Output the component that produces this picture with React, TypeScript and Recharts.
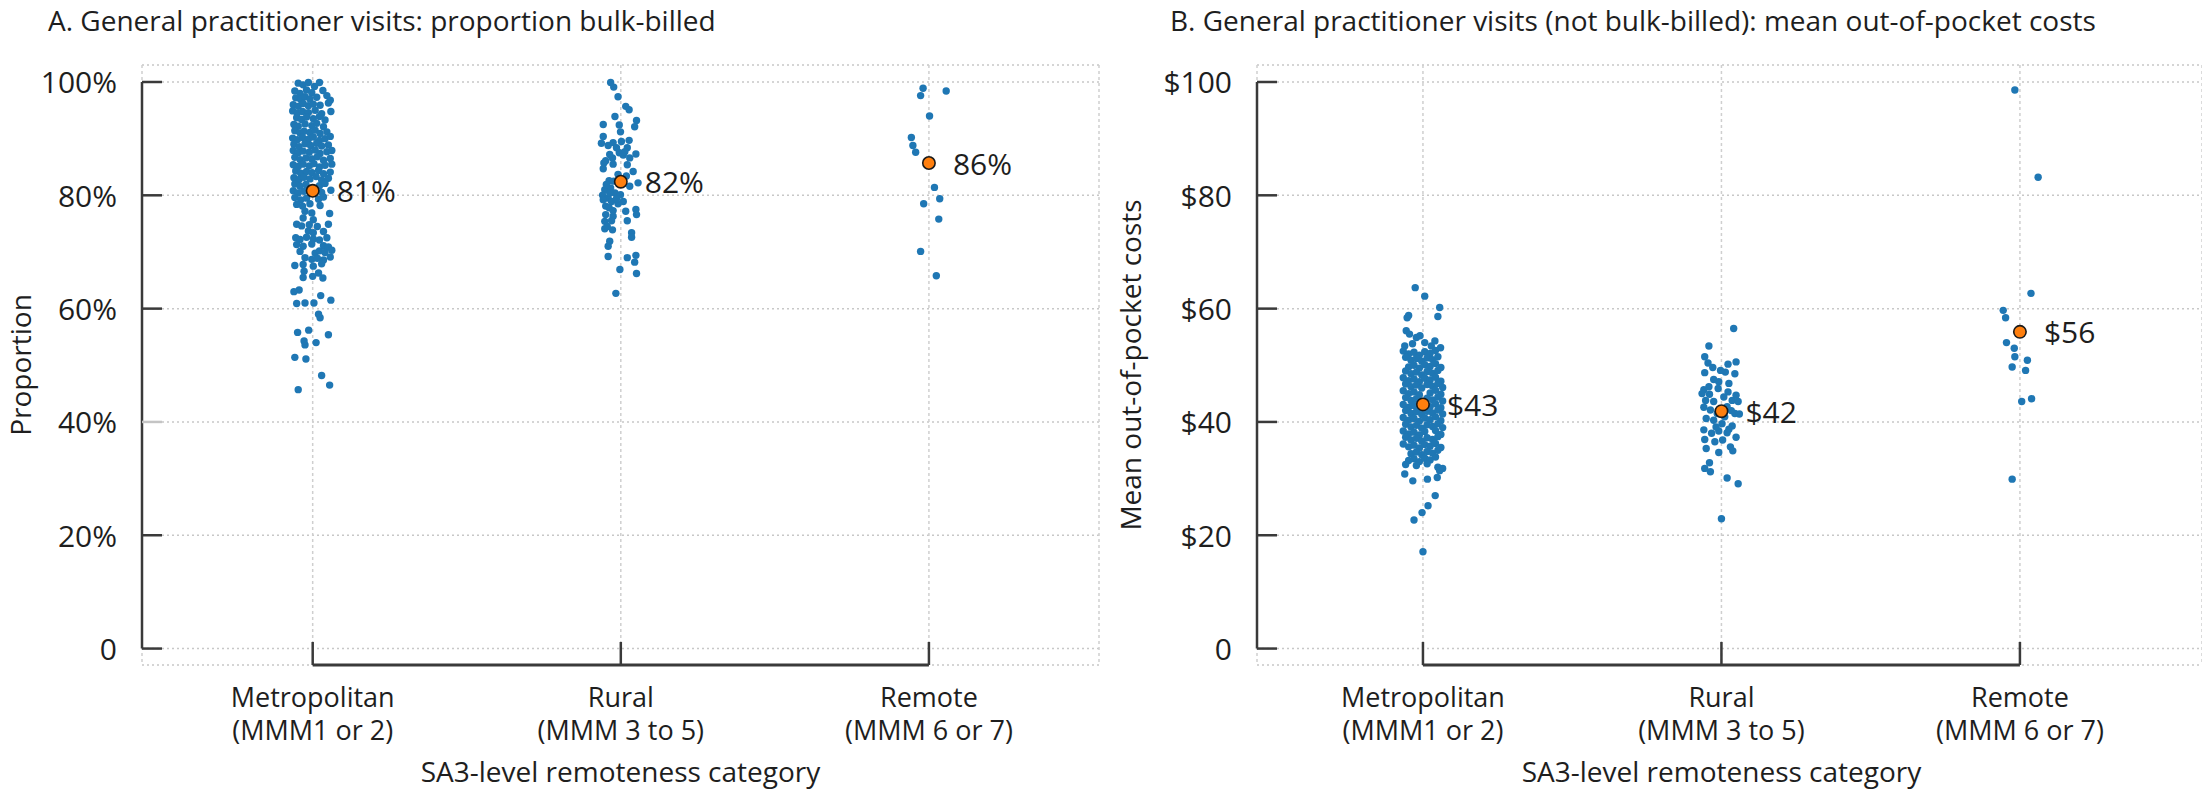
import {
  ScatterChart,
  Scatter,
  XAxis,
  YAxis,
  CartesianGrid,
  ReferenceLine,
  Label
} from "recharts";

const categories = ["Metropolitan", "Rural", "Remote"];
const categoryCodes = ["(MMM1 or 2)", "(MMM 3 to 5)", "(MMM 6 or 7)"];
const xAxisTitle = "SA3-level remoteness category";

const titleA = "A. General practitioner visits: proportion bulk-billed";
const titleB = "B. General practitioner visits (not bulk-billed): mean out-of-pocket costs";

const proportionTicks = [0, 20, 40, 60, 80, 100];
const costTicks = [0, 20, 40, 60, 80, 100];

// group means (orange markers)
const proportionMeans = [80.8, 82.4, 85.7];
const costMeans = [43.1, 41.9, 55.9];

// each SA3 region: [horizontal jitter within category, value]
const proportionMetro = [
  [-0.047, 99.8], [-0.031, 99.5], [-0.014, 99.9], [0.022, 99.9], [0.006, 99.2],
  [-0.058, 98.4], [-0.041, 98.0], [-0.020, 98.6], [-0.003, 98.1], [0.033, 98.5],
  [-0.055, 97.2], [-0.039, 96.9], [-0.025, 97.4], [-0.009, 97.0], [0.013, 97.3], [0.046, 97.6], [0.057, 96.8],
  [-0.063, 96.0], [-0.047, 95.7], [-0.031, 96.2], [-0.014, 95.8], [0.002, 96.1], [0.024, 95.9], [0.051, 96.3],
  [-0.065, 94.9], [-0.050, 94.5], [-0.033, 94.8], [-0.014, 94.6], [0.008, 95.0], [0.029, 94.4], [0.059, 94.8],
  [-0.052, 93.7], [-0.036, 93.4], [-0.020, 93.8], [0.002, 93.5], [0.022, 93.9], [0.040, 93.3],
  [-0.061, 92.5], [-0.047, 92.2], [-0.025, 92.6], [-0.003, 92.3], [0.013, 92.7], [0.035, 92.1],
  [-0.058, 91.4], [-0.041, 91.0], [-0.028, 91.3], [-0.009, 91.1], [0.008, 91.5], [0.024, 90.9], [0.046, 91.2],
  [-0.065, 90.1], [-0.050, 89.8], [-0.033, 90.2], [-0.014, 89.9], [0.002, 90.3], [0.022, 89.7], [0.040, 90.0], [0.057, 90.4],
  [-0.061, 89.0], [-0.044, 88.6], [-0.025, 89.1], [-0.007, 88.8], [0.013, 89.2], [0.029, 88.7], [0.051, 88.9],
  [-0.063, 87.9], [-0.047, 87.5], [-0.031, 87.8], [-0.011, 87.6], [0.008, 88.0], [0.024, 87.4], [0.046, 87.7], [0.062, 87.9],
  [-0.058, 86.7], [-0.041, 86.3], [-0.022, 86.6], [-0.003, 86.4], [0.015, 86.8], [0.035, 86.2], [0.057, 86.5],
  [-0.063, 85.4], [-0.047, 85.1], [-0.031, 85.5], [-0.011, 85.2], [0.004, 85.6], [0.022, 85.0], [0.040, 85.3], [0.062, 85.5],
  [-0.055, 84.3], [-0.039, 83.9], [-0.020, 84.2], [-0.002, 84.0], [0.019, 84.4], [0.035, 83.8], [0.057, 84.1],
  [-0.061, 83.1], [-0.044, 82.8], [-0.028, 83.2], [-0.009, 82.9], [0.011, 83.3], [0.029, 82.7], [0.051, 83.0],
  [-0.058, 82.0], [-0.041, 81.6], [-0.022, 81.9], [0.022, 81.7], [0.040, 82.1],
  [-0.063, 80.8], [-0.047, 80.4], [-0.028, 80.7], [0.029, 80.5], [0.059, 80.9],
  [-0.058, 79.6], [-0.039, 79.2], [-0.020, 79.5], [0.019, 79.3], [0.035, 79.7],
  [-0.052, 78.4], [-0.033, 78.1], [-0.009, 78.5], [0.024, 78.2],
  [-0.025, 77.2], [-0.003, 76.9], [0.055, 76.8],
  [-0.031, 76.0], [0.002, 75.7],
  [-0.052, 74.9], [-0.036, 74.6], [-0.011, 74.8], [0.015, 74.5], [0.051, 74.9],
  [-0.014, 73.7], [0.002, 73.4], [0.035, 73.6],
  [-0.055, 72.5], [-0.041, 72.2], [-0.020, 72.6], [0.002, 72.3], [0.022, 72.1], [0.046, 72.5],
  [-0.052, 71.3], [-0.031, 71.0], [-0.003, 71.4], [0.035, 71.1], [0.051, 70.9],
  [-0.041, 70.1], [0.008, 69.8], [0.022, 70.2], [0.040, 69.9], [0.062, 70.3],
  [-0.025, 69.0], [-0.003, 68.7], [0.015, 68.9], [0.035, 68.6], [0.057, 69.1],
  [-0.058, 67.6], [-0.031, 67.8], [0.002, 67.5], [0.029, 67.9],
  [-0.028, 66.6], [0.019, 66.3],
  [-0.031, 65.5], [0.000, 65.7], [0.033, 65.4],
  [-0.044, 63.3], [-0.061, 63.0], [0.026, 62.3],
  [0.059, 61.5], [-0.052, 60.9], [-0.025, 61.0], [0.004, 61.0],
  [0.024, 58.4], [0.019, 59.0],
  [-0.049, 55.8], [-0.013, 56.2], [0.051, 55.4],
  [-0.025, 53.6], [-0.028, 54.3], [0.011, 54.0],
  [-0.058, 51.4], [-0.022, 51.1],
  [0.029, 48.2], [0.055, 46.5], [-0.047, 45.7]
];

const proportionRural = [
  [-0.033, 99.9], [-0.023, 99.1], [-0.009, 97.4], [0.016, 95.7], [0.027, 95.1],
  [-0.019, 93.9], [0.051, 93.2], [0.045, 92.1], [-0.057, 92.5], [-0.005, 92.4],
  [-0.001, 91.2], [-0.057, 90.4], [-0.063, 89.2], [-0.041, 88.8], [-0.025, 89.3],
  [0.002, 89.5], [0.027, 89.7], [0.021, 88.4], [0.049, 87.3], [-0.005, 87.5],
  [-0.027, 86.6], [0.008, 87.1], [0.029, 86.6], [-0.055, 85.7], [-0.025, 85.5],
  [0.021, 85.4], [-0.057, 84.7], [0.040, 84.2], [-0.038, 82.6], [0.018, 83.4],
  [0.056, 82.2], [0.029, 81.6], [-0.052, 81.0], [-0.033, 81.3], [-0.059, 80.0],
  [-0.041, 79.5], [-0.019, 80.4], [0.008, 78.9], [-0.009, 78.5], [-0.049, 78.1],
  [-0.030, 78.9], [0.016, 77.2], [0.049, 77.5], [0.051, 76.6], [-0.052, 75.4],
  [-0.025, 76.3], [0.021, 75.5], [-0.052, 74.1], [-0.027, 73.9], [0.035, 73.4],
  [0.035, 72.6], [-0.036, 71.9], [-0.041, 71.0], [-0.041, 69.2], [0.021, 69.0],
  [0.049, 69.4], [0.045, 68.2], [-0.003, 66.9], [0.051, 66.2], [-0.016, 62.7],
  [-0.047, 81.9], [-0.023, 82.5], [-0.009, 83.7], [-0.057, 79.2], [-0.036, 80.4],
  [-0.001, 80.1], [-0.014, 79.4], [-0.038, 77.8], [-0.025, 77.3], [-0.049, 76.6],
  [-0.030, 75.5], [-0.044, 74.5], [-0.014, 88.4], [0.013, 87.7], [-0.036, 87.2],
  [-0.049, 86.1]
];

const proportionRemote = [
  [-0.019, 98.9], [-0.027, 97.6], [0.056, 98.4], [0.002, 94.0], [-0.057, 90.2],
  [-0.052, 88.8], [-0.043, 87.6], [0.018, 81.4], [0.035, 79.4], [-0.017, 78.5],
  [0.032, 75.8], [-0.027, 70.1], [0.024, 65.8]
];

const costMetro = [
  [-0.026, 63.7], [0.006, 62.2], [0.056, 60.2], [0.050, 58.6], [-0.048, 58.8], [-0.053, 58.4],
  [-0.056, 56.1], [-0.045, 55.5], [-0.022, 54.9], [0.006, 54.0], [0.028, 53.4], [0.059, 53.1],
  [-0.061, 53.4], [-0.035, 53.8], [0.040, 54.3], [-0.010, 55.2],
  [-0.066, 52.5], [-0.048, 52.0], [-0.030, 52.3], [-0.012, 51.8], [0.006, 52.4], [0.024, 52.1], [0.042, 52.6],
  [-0.058, 51.4], [-0.040, 50.9], [-0.022, 51.2], [-0.004, 50.7], [0.014, 51.3], [0.032, 51.0], [0.050, 51.5],
  [-0.048, 49.7], [-0.030, 50.0], [-0.012, 49.5], [0.006, 50.1], [0.024, 49.8], [0.042, 50.3], [0.060, 49.6],
  [-0.058, 49.0], [-0.040, 48.5], [-0.022, 48.8], [-0.004, 48.3], [0.014, 48.9], [0.032, 48.6], [0.050, 49.1],
  [-0.066, 47.8], [-0.048, 47.3], [-0.030, 47.6], [-0.012, 47.1], [0.006, 47.7], [0.024, 47.4], [0.042, 47.9], [0.060, 47.2],
  [-0.058, 46.7], [-0.040, 46.2], [-0.022, 46.5], [-0.004, 46.0], [0.014, 46.6], [0.032, 46.3], [0.050, 46.8], [0.066, 46.1],
  [-0.066, 45.5], [-0.048, 45.0], [-0.030, 45.3], [-0.012, 44.8], [0.024, 45.1], [0.042, 45.6], [0.060, 44.9],
  [-0.058, 44.3], [-0.040, 43.8], [-0.022, 44.1], [-0.004, 43.6], [0.014, 44.2], [0.032, 43.9], [0.050, 44.4], [0.066, 43.7],
  [-0.066, 43.1], [-0.048, 42.6], [-0.030, 42.9], [-0.012, 42.4], [0.006, 43.0], [0.024, 42.7], [0.042, 43.2], [0.060, 42.5],
  [-0.058, 42.0], [-0.040, 41.5], [-0.022, 41.8], [-0.004, 41.3], [0.014, 41.9], [0.032, 41.6], [0.050, 42.1], [0.066, 41.4],
  [-0.066, 40.8], [-0.048, 40.3], [-0.030, 40.6], [-0.012, 40.1], [0.006, 40.7], [0.024, 40.4], [0.042, 40.9], [0.060, 40.2],
  [-0.058, 39.6], [-0.040, 39.1], [-0.022, 39.4], [-0.004, 38.9], [0.014, 39.5], [0.032, 39.2], [0.050, 39.7], [0.066, 39.0],
  [-0.066, 38.4], [-0.048, 37.9], [-0.030, 38.2], [-0.012, 37.7], [0.006, 38.3], [0.042, 38.5], [0.060, 37.8],
  [-0.058, 37.3], [-0.040, 36.8], [-0.022, 37.1], [-0.004, 36.6], [0.014, 37.2], [0.032, 36.9], [0.050, 37.4],
  [-0.066, 36.1], [-0.048, 35.6], [-0.030, 35.9], [-0.012, 35.4], [0.006, 36.0], [0.024, 35.7], [0.042, 36.2], [0.060, 35.5],
  [-0.040, 34.4], [-0.022, 34.7], [-0.004, 34.2], [0.014, 34.8], [0.032, 34.5], [0.050, 35.0],
  [-0.048, 33.2], [-0.030, 33.5], [-0.012, 33.0], [0.006, 33.6], [0.024, 33.3], [0.042, 33.8],
  [-0.058, 32.5], [-0.022, 32.3], [0.014, 32.6], [0.050, 32.0], [0.066, 31.8],
  [-0.061, 30.8], [-0.034, 29.6], [0.015, 29.9], [0.048, 30.2], [0.056, 31.4],
  [0.041, 27.0], [0.017, 25.2], [-0.003, 24.0], [-0.030, 22.7], [0.000, 17.1]
];

const costRural = [
  [0.041, 56.5], [-0.042, 53.4], [-0.056, 51.5], [-0.045, 50.4], [-0.029, 49.6],
  [0.049, 50.6], [0.022, 50.2], [-0.056, 48.7], [0.045, 48.5], [0.013, 48.8],
  [-0.026, 47.5], [-0.009, 47.1], [0.025, 46.8], [-0.059, 45.7], [-0.040, 44.9],
  [-0.011, 45.9], [0.022, 45.3], [0.049, 44.7], [-0.053, 43.8], [-0.026, 43.6],
  [0.036, 43.8], [0.056, 43.6], [-0.059, 42.6], [-0.037, 42.1], [0.019, 42.7],
  [0.045, 41.5], [0.060, 41.4], [-0.051, 40.6], [-0.026, 40.3], [0.002, 39.7],
  [0.036, 39.3], [-0.059, 38.6], [-0.033, 38.0], [-0.009, 38.4], [0.019, 38.1],
  [0.049, 37.3], [-0.056, 36.9], [-0.022, 36.5], [0.004, 36.8], [0.030, 35.6],
  [-0.051, 35.3], [-0.009, 34.6], [0.038, 34.9], [-0.040, 32.8], [-0.056, 31.8],
  [-0.037, 31.2], [0.019, 30.1], [0.056, 29.1], [0.000, 22.9],
  [-0.065, 45.0], [-0.014, 41.5], [0.011, 40.9], [0.025, 38.7], [-0.018, 39.1],
  [-0.042, 46.2], [0.008, 44.4], [-0.003, 49.1], [0.033, 42.0]
];

const costRemote = [
  [-0.017, 98.6], [0.061, 83.2], [0.037, 62.7], [-0.056, 59.7], [-0.048, 58.4],
  [-0.045, 54.0], [-0.019, 53.0], [-0.017, 51.5], [0.025, 50.9], [-0.026, 49.7],
  [0.019, 49.1], [0.039, 44.1], [0.006, 43.6], [-0.026, 29.9]
];

const FONT = "'Open Sans', 'Noto Sans', sans-serif";
const INK = "#1e1e1e";
const AXIS = "#3a3a3a";
const Y_MIN = -2.9;
const Y_MAX = 103;

const toPoints = (groups: number[][][]) =>
  groups.flatMap((g, i) => g.map(([j, v]) => ({ x: i + j, y: v })));

const Dot = (p: any) => <circle cx={p.cx} cy={p.cy} r={3.7} fill="#1f77b4" />;

function Panel(props: any) {
  const { width, axisWidth, xMin, xMax, ticks, fmt, yLabel, groups, means, meanFmt, faint, titleShift } = props;
  const points = toPoints(groups);
  const meanRows = means.map((m: number, i: number) => ({ x: i, y: m, label: meanFmt(m) }));

  const MeanDot = (p: any) => (
    <g>
      <circle cx={p.cx} cy={p.cy} r={6.2} fill="#ff7f0e" stroke="#1a1a1a" strokeWidth={1.6} />
      <text x={p.cx + 24} y={p.cy} dominantBaseline="central" fontSize={30} fill={INK} fontFamily={FONT}>
        {p.payload.label}
      </text>
    </g>
  );

  const YTick = (p: any) => (
    <g>
      <line x1={p.x} x2={p.x + 20} y1={p.y} y2={p.y}
        stroke={faint.includes(p.payload.value) ? "#c4c4c4" : AXIS} strokeWidth={2.5} />
      <text x={p.x - 25} y={p.y} textAnchor="end" dominantBaseline="central" fontSize={30} fill={INK} fontFamily={FONT}>
        {fmt(p.payload.value)}
      </text>
    </g>
  );

  // bracket tick plus the two-line category label
  const XTick = (p: any) => (
    <g>
      <line x1={p.x} x2={p.x} y1={p.y - 23} y2={p.y} stroke={AXIS} strokeWidth={2.5} />
      <text x={p.x} y={p.y + 31} textAnchor="middle" dominantBaseline="central" fontSize={27} fill={INK} fontFamily={FONT}>
        <tspan x={p.x}>{categories[p.payload.value]}</tspan>
        <tspan x={p.x} dy={33}>{categoryCodes[p.payload.value]}</tspan>
      </text>
    </g>
  );

  return (
    <ScatterChart width={width} height={793} margin={{ top: 65, right: props.right, bottom: 0, left: 0 }}>
      <CartesianGrid vertical={false} stroke="#c8c8c8" strokeDasharray="2 3" strokeWidth={1.5} />
      <CartesianGrid horizontal={false} stroke="#cfcfcf" strokeDasharray="3 3" strokeWidth={1.5} />
      <XAxis type="number" dataKey="x" domain={[xMin, xMax]} ticks={[0, 1, 2]} interval={0}
        allowDataOverflow axisLine={false} tickLine={false} tickSize={0} tickMargin={0}
        height={128} tick={XTick}>
        <Label content={(lp: any) => {
          const vb = lp.viewBox;
          return (
            <text x={vb.x + vb.width / 2 + titleShift} y={vb.y + 106} textAnchor="middle"
              dominantBaseline="central" fontSize={28} fill={INK} fontFamily={FONT}>
              {xAxisTitle}
            </text>
          );
        }} />
      </XAxis>
      <YAxis type="number" dataKey="y" domain={[Y_MIN, Y_MAX]} ticks={ticks} interval={0}
        allowDataOverflow axisLine={false} tickLine={false} tickSize={0} tickMargin={0}
        width={axisWidth} tick={YTick}>
        <Label content={(lp: any) => {
          const vb = lp.viewBox;
          const cx = vb.x + props.labelX;
          const cy = vb.y + vb.height / 2;
          return (
            <text x={cx} y={cy} transform={`rotate(-90 ${cx} ${cy})`} textAnchor="middle"
              dominantBaseline="central" fontSize={28} fill={INK} fontFamily={FONT}>
              {yLabel}
            </text>
          );
        }} />
      </YAxis>
      <ReferenceLine segment={[{ x: xMin, y: 0 }, { x: xMin, y: 100 }]} stroke={AXIS} strokeWidth={2.5} ifOverflow="visible" />
      <ReferenceLine segment={[{ x: 0, y: Y_MIN }, { x: 2, y: Y_MIN }]} stroke={AXIS} strokeWidth={3} ifOverflow="visible" />
      <Scatter data={points} shape={Dot} isAnimationActive={false} />
      <Scatter data={meanRows} shape={MeanDot} isAnimationActive={false} />
    </ScatterChart>
  );
}

export default function App() {
  return (
    <div style={{ position: "absolute", left: 0, top: 0, width: 2202, height: 793, background: "#fff", overflow: "hidden" }}>
      <svg width={2202} height={44} style={{ position: "absolute", left: 0, top: 0 }}>
        <text x={48} y={31} fontSize={28} fill={INK} fontFamily={FONT}>{titleA}</text>
        <text x={1170} y={31} fontSize={28} fill={INK} fontFamily={FONT}>{titleB}</text>
      </svg>
      <div style={{ position: "absolute", left: 0, top: 0 }}>
        <Panel width={1110} right={11} axisWidth={142} xMin={-0.554} xMax={2.552} labelX={20}
          ticks={proportionTicks} fmt={(v: number) => (v === 0 ? "0" : `${v}%`)}
          yLabel="Proportion" groups={[proportionMetro, proportionRural, proportionRemote]}
          means={proportionMeans} meanFmt={(m: number) => `${Math.round(m)}%`} faint={[40]} titleShift={0} />
      </div>
      <div style={{ position: "absolute", left: 1110, top: 0 }}>
        <Panel width={1092} right={0} axisWidth={147} xMin={-0.556} xMax={2.61} labelX={20}
          ticks={costTicks} fmt={(v: number) => (v === 0 ? "0" : `$${v}`)}
          yLabel="Mean out-of-pocket costs" groups={[costMetro, costRural, costRemote]}
          means={costMeans} meanFmt={(m: number) => `$${Math.round(m)}`} faint={[]} titleShift={-8} />
      </div>
    </div>
  );
}
